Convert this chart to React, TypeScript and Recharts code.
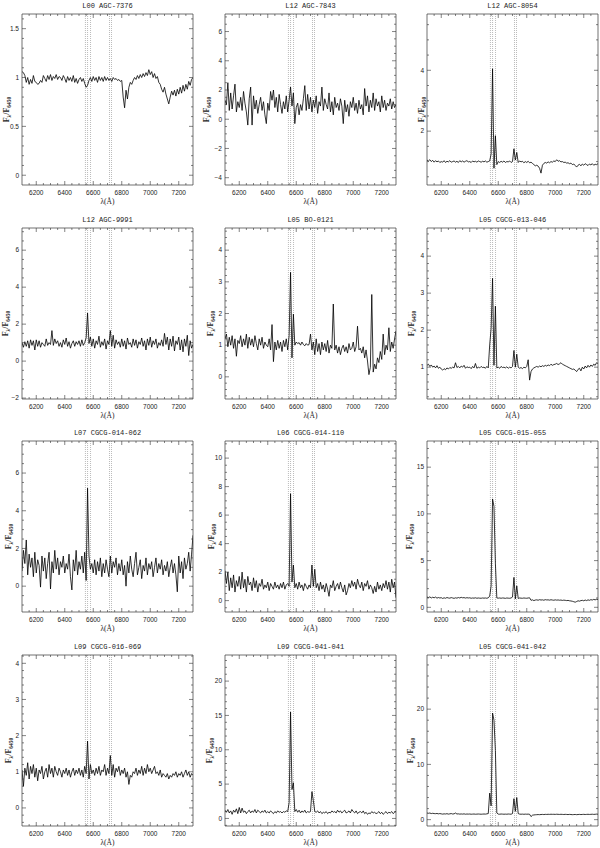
import React from 'react';
import { LineChart, Line, XAxis, YAxis, ReferenceLine } from 'recharts';

// ---------- data ----------
const LAMBDA_START = 6100;
const LAMBDA_STEP = 10;
const X_DOMAIN: [number, number] = [6100, 7300];
const X_MAJOR_TICKS = [6200, 6400, 6600, 6800, 7000, 7200];
const X_MINOR_STEP = 50;
const LINE_MARKERS = [6545, 6560, 6581, 6714, 6728];

const TITLES = [
  'L00 AGC-7376', 'L12 AGC-7843', 'L12 AGC-8054',
  'L12 AGC-9991', 'L05 BO-0121', 'L05 CGCG-013-046',
  'L07 CGCG-014-062', 'L06 CGCG-014-110', 'L05 CGCG-015-055',
  'L09 CGCG-016-069', 'L09 CGCG-041-041', 'L05 CGCG-041-042',
];

const FLUX_AGC_7376 = [
  1.06, 1.05, 1.02, 0.95, 1.0, 0.93, 0.98, 0.94, 1.02, 0.96,
  0.95, 0.93, 0.94, 0.97, 0.95, 1.02, 0.99, 0.96, 1.02, 0.98,
  1.03, 0.97, 1.01, 0.99, 1.03, 0.98, 1.01, 1.0, 0.97, 1.02,
  0.99, 0.95, 1.01, 0.97, 1.0, 0.96, 1.02, 0.95, 0.99, 0.94,
  0.98, 1.0, 0.96, 0.99, 0.94, 0.9, 0.92, 0.97, 1.0, 0.96,
  1.01, 0.97, 1.0, 0.95, 1.01, 0.97, 1.0, 0.96, 1.01, 0.97,
  1.0, 0.97, 0.99, 0.96, 1.0, 0.98, 0.99, 0.97, 0.98, 0.96,
  0.97, 0.8, 0.69, 0.87, 0.78, 0.9, 0.95, 0.93, 0.97, 1.0,
  0.98, 1.02, 0.99, 1.03, 1.0, 1.04, 1.01, 1.05, 1.02, 1.08,
  1.03, 1.06, 1.0, 1.04, 0.99, 1.01, 0.95, 0.93, 0.88, 0.85,
  0.9, 0.83, 0.78, 0.73, 0.8, 0.86, 0.82, 0.87, 0.81, 0.88,
  0.83, 0.9, 0.84, 0.92, 0.86, 0.93, 0.88, 0.96, 0.92, 0.98,
  1.0,
];
const FLUX_AGC_7843 = [
  1.3, 1.0, 2.5, 0.6, 1.8, 0.7, 1.6, 2.4, 0.5, 1.2,
  0.8, 1.5, 0.6, 1.9, 1.1, 0.5, -0.4, 1.4, 2.2, -0.4,
  1.6, 0.7, 1.3, 0.4, 1.0, 1.5, 0.6, 1.2, 0.3, -0.3,
  1.1, 0.6, 1.9, 1.3, 2.0, 0.8, 1.5, 0.5, 1.7, 1.0,
  0.4, 1.2, 0.7, 1.6, 0.5, 1.3, 2.2, 0.9, 1.8, -0.3,
  0.8, 1.1, 0.3, 1.0, 0.6, 1.4, 2.3, 0.6, 1.7, 0.7,
  1.5, 0.5, 1.3, 0.8, 1.6, 0.4, 1.2, 0.9, 2.2, 0.6,
  1.4, 1.0, 0.7, 1.8, 0.5, 1.2, 0.3, 1.5, 0.8, 1.1,
  0.6, 1.4, 0.9, -0.3, 1.3, 0.5, 1.0, 0.2, 1.2, 0.8,
  1.5, 0.6, 1.1, 0.4, 1.3, 0.7, 1.0, 0.3, 2.1, 0.9,
  1.6, 0.5, 1.3, 0.8, 1.8, 0.6, 1.4, 0.9, 1.2, 0.5,
  1.6, 0.8, 1.3, 0.6, 1.1, 0.9, 1.4, 0.7, 1.2, 0.8,
  1.0,
];
const FLUX_AGC_8054 = [
  1.05, 1.02, 1.06, 1.0, 1.04, 0.98, 1.03, 0.99, 1.02, 0.97,
  1.0, 0.98, 1.03, 0.97, 1.01, 0.99, 1.03, 0.98, 1.0, 1.02,
  0.98, 1.01, 0.97, 1.03, 0.99, 1.02, 0.98, 1.01, 1.03, 0.99,
  1.0, 0.97, 1.02, 0.99, 1.01, 0.98, 1.02, 1.0, 0.98, 1.01,
  0.99, 1.02, 0.98, 1.0, 1.02, 1.25, 4.05, 0.78, 1.85, 0.9,
  1.0, 0.97, 1.01, 0.98, 1.02, 0.97, 1.0, 0.99, 1.02, 0.97,
  1.0, 1.42, 1.05, 1.3, 0.97, 1.02, 0.99, 1.01, 0.96, 1.0,
  0.97, 1.01, 0.96, 0.98, 0.94, 0.9, 0.86, 0.88, 0.85, 0.78,
  0.62, 0.88, 0.94, 0.97, 0.95, 0.99, 0.96, 1.0, 0.98, 1.02,
  1.0, 1.06, 1.01, 1.03, 0.99, 1.0, 0.97, 0.98, 0.95, 0.96,
  0.93, 0.95, 0.9, 0.92, 0.87, 0.82, 0.88, 0.91, 0.86, 0.92,
  0.88, 0.93, 0.9, 0.87, 0.92, 0.89, 0.93, 0.88, 0.91, 0.9,
  0.93,
];
const FLUX_AGC_9991 = [
  1.0, 0.75, 1.05, 0.8, 1.1, 0.7, 1.15, 0.85, 1.1, 0.6,
  1.15, 0.8, 1.1, 0.75, 1.0, 0.9, 0.8, 1.2, 0.85, 1.0,
  0.9, 1.65, 0.85, 1.2, 0.95, 1.1, 0.8, 1.0, 0.75, 1.15,
  0.9, 1.25, 0.8, 1.05, 0.7, 0.95, 1.1, 0.8, 1.05, 0.9,
  1.1, 0.8, 1.15, 0.85, 1.0, 1.25, 2.6, 0.95, 1.3, 0.8,
  1.2, 0.7, 1.1, 0.9, 1.35, 0.75, 1.05, 0.85, 1.2, 0.65,
  1.1, 0.9, 1.65, 0.8, 1.4, 0.7, 1.15, 0.9, 1.05, 0.75,
  1.2, 0.8, 1.1, 0.65, 1.25, 0.9, 1.0, 0.75, 1.2, 0.85,
  1.15, 0.7, 1.05, 0.9, 1.25, 0.8, 1.1, 0.6, 1.2, 0.85,
  1.3, 0.75, 1.1, 0.9, 1.2, 0.7, 1.0, 0.85, 1.15, 0.8,
  1.5, 0.9, 1.3, 0.6, 1.2, 0.8, 1.35, 0.55, 1.1, 0.9,
  1.3, 0.6, 1.15, 0.5, 1.2, 0.8, 1.4, 0.3, 1.1, 0.7,
  0.9,
];
const FLUX_BO_0121 = [
  1.2, 1.35, 0.95, 1.25, 1.0, 1.3, 0.9, 1.2, 0.65, 1.15,
  1.05, 1.3, 0.95, 1.2, 1.0, 1.35, 0.9, 1.25, 1.0, 1.2,
  0.95, 1.3, 1.05, 0.85, 1.2, 1.0, 1.25, 0.9, 1.1, 1.0,
  0.95, 1.2, 0.85, 1.65, 0.48, 1.1, 0.85, 1.15, 0.9, 1.1,
  0.8, 1.15, 0.95, 1.2, 0.85, 1.3, 3.3, 0.6, 1.98, 1.0,
  1.1, 1.05, 1.08, 1.0, 1.1, 1.02, 0.98, 1.05, 1.0, 1.02,
  1.35, 0.85, 1.1, 0.7, 1.2, 0.8, 1.05, 0.7, 1.1, 0.85,
  1.05, 0.8, 1.15, 0.75, 1.0, 0.9, 2.3, 0.85, 1.0, 0.75,
  0.95, 0.7, 0.9, 1.0, 0.8, 0.95, 0.75, 1.05, 0.85, 0.9,
  1.1, 0.8, 0.95, 1.6, 0.85, 0.9, 0.75, 0.95, 0.6, 0.85,
  0.5, 0.07, 0.3, 2.6, 0.15, 0.4, 0.25, 0.6, 0.45, 0.8,
  0.55, 1.35, 0.7, 1.0, 0.85, 1.55, 0.8, 1.1, 0.9, 1.2,
  1.45,
];
const FLUX_CGCG_013_046 = [
  1.05, 1.08, 1.02, 1.06, 1.0, 1.03, 0.98, 1.04, 0.97, 1.0,
  0.95, 0.92, 0.96, 0.93, 0.98, 0.95, 0.99, 0.97, 1.0, 0.98,
  1.12, 0.99, 1.02, 0.98, 1.03, 1.0, 1.05, 0.97, 1.01, 0.99,
  1.0, 0.96, 1.02, 0.98, 1.1, 0.97, 1.0, 0.98, 1.02, 0.99,
  1.0, 0.97, 1.02, 0.98, 1.6, 2.05, 3.4, 1.05, 2.65, 0.98,
  1.0, 0.97, 1.02, 0.99, 1.0, 0.98, 1.01, 0.97, 1.0, 0.98,
  1.02, 1.45, 1.0, 1.35, 1.0, 0.97, 0.99, 0.96, 1.0, 0.98,
  1.02, 1.2, 0.65, 0.88, 0.95, 0.98, 1.0, 1.02, 1.0, 1.03,
  1.01, 1.04, 1.02, 1.05, 1.03, 1.06, 1.04, 1.08, 1.05, 1.07,
  1.08, 1.1, 1.07, 1.09, 1.12, 1.08, 1.06, 1.04, 1.02, 1.0,
  0.98, 0.96, 0.94, 0.95, 0.92, 0.88, 0.94, 0.97, 0.9, 1.0,
  0.95, 1.03, 0.98, 1.05, 1.0, 1.06, 1.02, 1.08, 1.05, 1.12,
  1.1,
];
const FLUX_CGCG_014_062 = [
  0.8, 1.9, 1.2, 2.45, 0.6, 1.7, 1.0, 1.5, 0.5, 1.8,
  0.7, 1.4, 1.1, -0.05, 1.6, 0.8, 1.5, 0.4, 1.2, 1.8,
  -0.15, 1.3, 0.7, 1.9, 0.9, 1.5, 0.6, 1.3, 1.0, 1.6,
  0.7, 1.2, 0.9, 1.7, 0.5, -0.2, 1.4, 0.8, 1.9, 0.6,
  1.3, 0.9, 1.6, 0.7, 1.8, 0.3, 5.2, 1.6, 0.9, 1.2,
  0.7, 1.4, 0.6, 1.3, 0.8, 1.5, 0.5, 1.2, 0.7, 1.4,
  0.9, 0.5, 1.6, 0.7, 1.3, 1.0, 1.5, 0.6, 1.2, 0.8,
  1.4, 0.6, 1.1, 0.0, 1.3, 0.7, 1.6, 0.9, 0.5, 1.2,
  1.8, 0.6, 1.0, 1.4, 0.4, 1.1, 0.8, 1.5, 0.6, 1.2,
  0.9, 1.3, 0.5, 1.0, 1.5, 0.7, 1.2, 0.9, 1.4, 0.6,
  1.1, 0.8, 1.3, 0.5, 1.0, 1.4, 0.7, 1.2, 0.6, -0.3,
  1.6, 0.7, 1.3, 0.4, 1.5, 0.9, 1.2, 1.8, 0.8, 1.7,
  2.7,
];
const FLUX_CGCG_014_110 = [
  2.1, 1.2, 2.0, 0.7, 1.6, 0.9, 1.8, 0.6, 1.4, 1.0,
  1.7, 0.8, 2.0, 0.9, 1.5, 0.6, 1.7, 1.1, 1.3, 0.7,
  1.6, 0.9, 1.4, 0.6, 1.2, 1.0, 1.5, 0.8, 1.1, 0.9,
  1.3, 0.7, 1.2, 1.0, 0.8, 1.3, 0.9, 1.1, 0.8, 1.2,
  0.9, 1.3, 0.8, 1.1, 1.2, 1.0, 7.5, 1.3, 2.5, 0.9,
  1.2, 0.8, 1.3, 0.9, 1.1, 0.7, 1.2, 1.0, 0.8, 1.1,
  0.9, 2.5, 1.0, 2.2, 0.9, 1.2, 0.7, 1.3, 0.8, 1.1,
  0.6, 1.2, 0.8, 0.3, 1.1, 0.9, 1.4, 0.7, 1.0, 1.2,
  0.8, 1.3, 0.9, 0.6, 1.1, 0.4, 0.7, 1.2, 0.9, 1.4,
  1.0, 1.3, 0.8, 1.5, 1.1, 0.9, 1.3, 0.7, 1.2, 1.0,
  1.4, 0.8, 1.1, 0.9, 0.5, 1.0, 0.6, 1.3, 0.8, 1.1,
  0.7, 1.2, 0.9, 1.4, 0.8, 1.3, 0.6, 1.5, 0.9, 1.3,
  0.2,
];
const FLUX_CGCG_015_055 = [
  1.1, 1.05, 1.12, 1.0, 1.08, 1.02, 1.1, 0.98, 1.05, 1.0,
  1.03, 0.95, 1.02, 0.97, 1.05, 1.0, 0.98, 1.04, 1.0, 0.96,
  1.02, 0.98, 1.05, 1.0, 1.07, 1.02, 1.04, 0.99, 1.03, 1.0,
  1.02, 0.97, 1.0, 0.98, 1.02, 0.97, 1.0, 0.98, 0.97, 1.0,
  0.98, 1.0, 0.97, 1.02, 1.2, 2.3, 11.6, 10.8, 4.7, 1.0,
  0.98, 1.0, 0.97, 1.0, 0.99, 0.96, 1.0, 0.98, 0.97, 1.0,
  1.1, 3.2, 0.9, 2.3, 0.95, 1.0, 0.98, 0.97, 1.0, 0.98,
  0.97, 1.0, 1.02, 0.75, 0.8, 0.72, 0.78, 0.8, 0.76, 0.82,
  0.78, 0.8, 0.76, 0.82, 0.79, 0.8, 0.77, 0.81, 0.78, 0.76,
  0.8, 0.77, 0.79, 0.76, 0.78, 0.74, 0.77, 0.75, 0.72, 0.74,
  0.7, 0.68, 0.65, 0.6, 0.55, 0.62, 0.7, 0.66, 0.72, 0.75,
  0.7, 0.78, 0.72, 0.8, 0.75, 0.82, 0.78, 0.85, 0.8, 0.86,
  0.84,
];
const FLUX_CGCG_016_069 = [
  1.05, 0.6, 1.1, 0.9, 1.25, 0.8, 1.15, 0.95, 1.2, 0.85,
  1.1, 0.75, 1.05, 0.95, 1.15, 0.8, 1.0, 1.1, 0.85, 1.2,
  0.95, 1.1, 0.85, 1.15, 1.0, 0.9, 1.1, 1.0, 0.85, 1.05,
  0.95, 1.1, 0.9, 1.05, 0.85, 1.0, 1.1, 0.9, 1.05, 0.95,
  1.1, 0.9, 1.05, 0.85, 1.15, 0.95, 1.85, 0.8, 1.2, 0.95,
  1.05, 0.9, 1.1, 0.95, 1.15, 0.9, 1.05, 1.0, 1.2, 0.9,
  1.1, 0.95, 1.45, 0.9, 1.2, 0.85, 1.1, 1.0, 1.15, 0.9,
  1.05, 0.95, 1.1, 0.85, 1.0, 0.65, 0.9, 0.85, 1.0, 0.95,
  1.1, 0.9, 1.05, 0.95, 1.15, 0.9, 1.1, 0.95, 1.2, 1.0,
  1.1, 0.95, 1.05, 1.15, 0.95, 1.0, 0.9, 1.05, 0.85, 0.95,
  0.9, 0.85, 0.95, 0.8, 0.9, 0.85, 0.95, 0.9, 1.0, 0.85,
  0.95, 0.9, 1.0, 0.85, 0.95, 1.05, 0.9, 1.0, 0.85, 0.95,
  0.9,
];
const FLUX_CGCG_041_041 = [
  1.2, 0.9, 1.3, 0.8, 1.1, 0.6, 1.2, 0.9, 1.4, 0.7,
  1.6, 0.8, 1.5, 0.9, 1.1, 0.7, 1.0, 1.2, 0.8, 1.1,
  0.9, 1.3, 0.8, 1.2, 1.0, 0.8, 1.1, 0.9, 1.2, 0.8,
  1.0, 0.8, 1.1, 0.9, 0.7, 1.0, 0.8, 1.1, 0.9, 1.0,
  0.8, 1.0, 0.9, 1.1, 1.0, 2.3, 15.5, 4.2, 5.2, 1.0,
  1.3, 0.9, 1.2, 0.8, 1.1, 0.9, 1.2, 0.8, 1.0, 0.9,
  1.0, 3.9, 2.6, 1.0, 0.9, 1.1, 0.8, 1.0, 0.7, 0.9,
  0.8, 1.0, 0.7, 0.9, 0.8, 1.1, 0.9, 1.0, 0.8, 1.2,
  0.9, 1.1, 0.8, 1.0, 1.2, 0.8, 0.9, 1.1, 0.8, 1.3,
  1.0, 0.8, 1.1, 0.7, 0.9, 1.0, 0.8, 1.1, 0.7, 0.9,
  0.6, 0.8, 0.7, 1.0, 0.8, 0.9, 0.7, 0.8, 1.0, 0.7,
  0.9, 0.6, 0.8, 1.0, 0.7, 0.9, 0.8, 1.0, 0.7, 0.9,
  1.0,
];
const FLUX_CGCG_041_042 = [
  1.2, 1.15, 1.2, 1.1, 1.15, 1.1, 1.08, 1.12, 1.05, 1.1,
  1.05, 1.0, 1.05, 1.02, 1.08, 1.0, 1.05, 1.1, 1.02, 1.05,
  1.2, 1.02, 1.05, 1.0, 1.03, 1.0, 1.05, 0.98, 1.02, 1.0,
  1.02, 0.98, 1.0, 1.02, 0.98, 1.0, 1.02, 1.0, 0.98, 1.0,
  1.02, 1.0, 1.05, 1.1, 4.8, 2.5, 19.3, 18.0, 12.5, 1.2,
  1.0, 0.98, 1.02, 1.0, 0.98, 1.0, 0.98, 1.02, 1.0, 0.98,
  1.1, 3.8, 1.5, 4.0, 1.1, 1.0, 0.98, 1.0, 0.97, 1.0,
  0.98, 1.0, 0.97, 0.55, 0.8, 0.85, 0.88, 0.9, 0.92, 0.9,
  0.93, 0.95, 0.92, 0.96, 0.94, 0.97, 0.95, 0.98, 0.96, 0.97,
  0.95, 0.98, 0.96, 0.94, 0.97, 0.95, 0.93, 0.96, 0.94, 0.92,
  0.95, 0.93, 0.9, 0.92, 0.94, 0.9, 0.93, 0.95, 0.92, 0.94,
  0.96, 0.93, 0.95, 0.97, 0.94, 0.96, 0.98, 0.95, 0.97, 1.0,
  0.98,
];

const FLUXES = [
  FLUX_AGC_7376, FLUX_AGC_7843, FLUX_AGC_8054,
  FLUX_AGC_9991, FLUX_BO_0121, FLUX_CGCG_013_046,
  FLUX_CGCG_014_062, FLUX_CGCG_014_110, FLUX_CGCG_015_055,
  FLUX_CGCG_016_069, FLUX_CGCG_041_041, FLUX_CGCG_041_042,
];

const Y_DOMAINS: [number, number][] = [
  [-0.1, 1.65], [-4.5, 7.2], [0.23, 5.85],
  [-2.05, 7.2], [-0.7, 4.7], [0.14, 4.76],
  [-1.37, 7.7], [-0.8, 11.2], [-0.5, 17.8],
  [-0.5, 4.23], [-1.1, 23.8], [-1.15, 29.8],
];
const Y_MAJOR_TICKS = [
  [0, 0.5, 1, 1.5], [-4, -2, 0, 2, 4, 6], [2, 4],
  [-2, 0, 2, 4, 6], [0, 1, 2, 3, 4], [1, 2, 3, 4],
  [0, 2, 4, 6], [0, 2, 4, 6, 8, 10], [0, 5, 10, 15],
  [0, 1, 2, 3, 4], [0, 5, 10, 15, 20], [0, 10, 20],
];
const Y_MINOR_STEPS = [0.1, 0.5, 0.5, 0.5, 0.2, 0.2, 0.5, 0.5, 1, 0.2, 1, 2];
const Y_LABEL_GAP = [16, 19, 6, 17, 15, 16, 14, 14, 18, 14, 16, 17];

// ---------- layout ----------
const PLOT_LEFTS = [22, 225, 427];
const PLOT_TOPS = [14, 228, 441, 655];
const CHART_W = 200;
const CHART_H = 213;
const Y_AXIS_W = 25;
const X_AXIS_H = 27;
const MARGIN = { top: 13, right: 3, bottom: 1, left: 0 };

const FRAME = '#333';
const TICK_FONT = '"Liberation Sans", Arial, sans-serif';
const MAJOR_LEN = 4;
const MINOR_LEN = 2;

const round = (v: number) => Math.round(v * 1000) / 1000;
const fmt = (v: number) => (v < 0 ? '\u2212' + String(-v) : String(v));

function xTicksAll(): number[] {
  const out: number[] = [];
  for (let v = X_DOMAIN[0] + X_MINOR_STEP; v < X_DOMAIN[1]; v += X_MINOR_STEP) out.push(v);
  return out;
}
function yTicksAll(domain: [number, number], step: number): number[] {
  const out: number[] = [];
  const start = Math.ceil(domain[0] / step) * step;
  for (let v = start; v < domain[1]; v += step) {
    const r = round(v);
    if (r > domain[0]) out.push(r);
  }
  return out;
}
const isMajor = (v: number, majors: number[]) => majors.some((m) => Math.abs(m - v) < 1e-6);

function Panel({ idx }: { idx: number }) {
  const col = idx % 3;
  const row = Math.floor(idx / 3);
  const left = PLOT_LEFTS[col] - Y_AXIS_W;
  const top = PLOT_TOPS[row] - (MARGIN.top + 1);
  const flux = FLUXES[idx];
  const data = flux.map((f, i) => ({ lam: LAMBDA_START + i * LAMBDA_STEP, f }));
  const yDomain = Y_DOMAINS[idx];
  const yMajors = Y_MAJOR_TICKS[idx];
  const yTicks = yTicksAll(yDomain, Y_MINOR_STEPS[idx]);
  const xTicks = xTicksAll();
  const title = TITLES[idx];
  const labelGap = Y_LABEL_GAP[idx];

  const bottomTick = (p: any) => {
    const v = p.payload.value;
    const major = isMajor(v, X_MAJOR_TICKS);
    return (
      <g>
        <line x1={p.x} x2={p.x} y1={p.y} y2={p.y - (major ? MAJOR_LEN : MINOR_LEN)} stroke={FRAME} strokeWidth={0.6} />
        {major && (
          <text x={p.x} y={p.y + 10} textAnchor="middle" fontSize={6.5} fontFamily={TICK_FONT} fill="#222">
            {fmt(v)}
          </text>
        )}
      </g>
    );
  };
  const topTick = (p: any) => {
    const v = p.payload.value;
    const major = isMajor(v, X_MAJOR_TICKS);
    return <line x1={p.x} x2={p.x} y1={p.y} y2={p.y + (major ? MAJOR_LEN : MINOR_LEN)} stroke={FRAME} strokeWidth={0.6} />;
  };
  const leftTick = (p: any) => {
    const v = p.payload.value;
    const major = isMajor(v, yMajors);
    return (
      <g>
        <line x1={p.x} x2={p.x + (major ? MAJOR_LEN : MINOR_LEN)} y1={p.y} y2={p.y} stroke={FRAME} strokeWidth={0.6} />
        {major && (
          <text x={p.x - 3} y={p.y + 2.3} textAnchor="end" fontSize={6.5} fontFamily={TICK_FONT} fill="#222">
            {fmt(v)}
          </text>
        )}
      </g>
    );
  };
  const rightTick = (p: any) => {
    const v = p.payload.value;
    const major = isMajor(v, yMajors);
    return <line x1={p.x} x2={p.x - (major ? MAJOR_LEN : MINOR_LEN)} y1={p.y} y2={p.y} stroke={FRAME} strokeWidth={0.6} />;
  };

  const titleLabel = (props: any) => {
    const vb = props.viewBox || {};
    return (
      <text x={vb.x + vb.width / 2} y={vb.y - 5} textAnchor="middle" fontSize={7} fontFamily='"Liberation Mono", "DejaVu Sans Mono", monospace' fill="#222">
        {title}
      </text>
    );
  };
  const xLabel = (props: any) => {
    const vb = props.viewBox || {};
    return (
      <text x={vb.x + vb.width / 2} y={vb.y + 19} textAnchor="middle" fontSize={7.5} fontFamily='"Liberation Serif", "DejaVu Serif", serif' fill="#222">
        λ(Å)
      </text>
    );
  };
  const yLabel = (props: any) => {
    const vb = props.viewBox || {};
    const cx = vb.x + vb.width - labelGap + 3;
    const cy = vb.y + vb.height / 2 + 10;
    return (
      <text transform={`translate(${cx},${cy}) rotate(-90)`} textAnchor="middle" fontSize={8} fontWeight="bold" fontFamily='"Liberation Serif", "DejaVu Serif", serif' fill="#222">
        F<tspan fontSize={5.5} dy={2}>λ</tspan>
        <tspan dy={-2}>/F</tspan>
        <tspan fontSize={5.5} dy={2}>6450</tspan>
      </text>
    );
  };

  return (
    <div style={{ position: 'absolute', left, top, width: CHART_W, height: CHART_H }}>
      <LineChart width={CHART_W} height={CHART_H} data={data} margin={MARGIN}>
        <XAxis
          xAxisId="b" dataKey="lam" type="number" domain={X_DOMAIN} allowDataOverflow
          ticks={xTicks} interval={0} tickSize={0} tickMargin={0} tickLine={false}
          height={X_AXIS_H} axisLine={{ stroke: FRAME, strokeWidth: 0.7 }} tick={bottomTick}
          label={{ content: xLabel }}
        />
        <XAxis
          xAxisId="t" orientation="top" dataKey="lam" type="number" domain={X_DOMAIN} allowDataOverflow
          ticks={xTicks} interval={0} tickSize={0} tickMargin={0} tickLine={false}
          height={1} axisLine={{ stroke: FRAME, strokeWidth: 0.7 }} tick={topTick}
          label={{ content: titleLabel }}
        />
        <YAxis
          yAxisId="l" type="number" domain={yDomain} allowDataOverflow
          ticks={yTicks} interval={0} tickSize={0} tickMargin={0} tickLine={false}
          width={Y_AXIS_W} axisLine={{ stroke: FRAME, strokeWidth: 0.7 }} tick={leftTick}
          label={{ content: yLabel }}
        />
        <YAxis
          yAxisId="r" orientation="right" type="number" domain={yDomain} allowDataOverflow
          ticks={yTicks} interval={0} tickSize={0} tickMargin={0} tickLine={false}
          width={1} axisLine={{ stroke: FRAME, strokeWidth: 0.7 }} tick={rightTick}
        />
        {LINE_MARKERS.map((m) => (
          <ReferenceLine key={m} x={m} xAxisId="b" yAxisId="l" stroke="#777" strokeWidth={0.5} strokeDasharray="1 1" />
        ))}
        <Line
          xAxisId="b" yAxisId="l" dataKey="f" type="linear" stroke="#000" strokeWidth={0.8}
          dot={false} activeDot={false} isAnimationActive={false}
        />
      </LineChart>
    </div>
  );
}

export default function App() {
  return (
    <div style={{ position: 'absolute', left: 0, top: 0, width: 600, height: 848, background: '#fff', overflow: 'hidden' }}>
      {TITLES.map((_, i) => (
        <Panel key={i} idx={i} />
      ))}
    </div>
  );
}
